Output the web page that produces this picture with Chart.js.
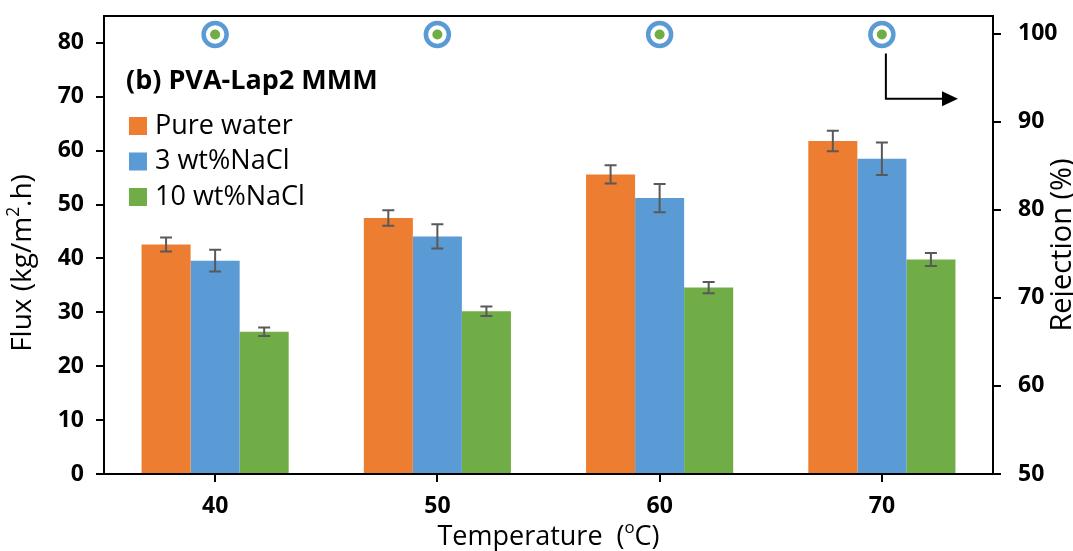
<!DOCTYPE html>
<html>
<head>
<meta charset="utf-8">
<script src="https://cdn.jsdelivr.net/npm/chart.js@4.4.1/dist/chart.umd.min.js"></script>
<style>
  html, body { margin: 0; padding: 0; background: #fff; }
</style>
</head>
<body>
<canvas id="myChart" width="1073" height="551"></canvas>
<script>
// data
const temps = ['40', '50', '60', '70'];
const pureWater = [42.6, 47.5, 55.6, 61.8];
const pureWaterErr = [1.3, 1.45, 1.7, 1.9];
const nacl3 = [39.6, 44.1, 51.2, 58.5];
const nacl3Err = [2.0, 2.25, 2.6, 3.0];
const nacl10 = [26.4, 30.2, 34.6, 39.8];
const nacl10Err = [0.8, 0.9, 1.05, 1.2];
const rejection3 = [99.9, 99.9, 99.9, 99.9];
const rejection10 = [99.9, 99.9, 99.9, 99.9];
const fluxTicks = [0, 10, 20, 30, 40, 50, 60, 70, 80];
const rejectionTicks = [50, 60, 70, 80, 90, 100];

const FONT = "'Open Sans', sans-serif";
const orange = '#ED7D31';
const blue = '#5B9BD5';
const green = '#70AD47';

// draws text pieces, some raised as superscript, centred on (0,0)
function drawParts(ctx, parts, size) {
  let total = 0;
  parts.forEach(p => {
    ctx.font = (p[1] ? size * 0.62 : size) + 'px ' + FONT;
    total += ctx.measureText(p[0]).width;
  });
  let x = -total / 2;
  parts.forEach(p => {
    ctx.font = (p[1] ? size * 0.62 : size) + 'px ' + FONT;
    ctx.fillText(p[0], x, p[1] ? -size * 0.33 : 0);
    x += ctx.measureText(p[0]).width;
  });
}

const extras = {
  id: 'extras',
  afterDatasetsDraw(chart) {
    const ctx = chart.ctx;
    const y = chart.scales.y;
    const errs = [pureWaterErr, nacl3Err, nacl10Err];
    ctx.save();
    ctx.strokeStyle = '#595959';
    ctx.lineWidth = 2;
    errs.forEach((err, i) => {
      chart.getDatasetMeta(i).data.forEach((bar, j) => {
        const v = chart.data.datasets[i].data[j];
        const top = y.getPixelForValue(v + err[j]);
        const bot = y.getPixelForValue(v - err[j]);
        ctx.beginPath();
        ctx.moveTo(bar.x, top); ctx.lineTo(bar.x, bot);
        ctx.moveTo(bar.x - 6, top); ctx.lineTo(bar.x + 6, top);
        ctx.moveTo(bar.x - 6, bot); ctx.lineTo(bar.x + 6, bot);
        ctx.stroke();
      });
    });
    ctx.restore();
  },
  afterDraw(chart) {
    const ctx = chart.ctx;
    const area = chart.chartArea;
    ctx.save();
    // top border of the plot
    ctx.strokeStyle = '#000';
    ctx.lineWidth = 2;
    ctx.beginPath();
    ctx.moveTo(area.left - 1, area.top);
    ctx.lineTo(area.right + 1, area.top);
    ctx.stroke();

    // panel title + legend
    ctx.fillStyle = '#000';
    ctx.textBaseline = 'middle';
    ctx.textAlign = 'left';
    ctx.font = 'bold 27px ' + FONT;
    ctx.fillText('(b) PVA-Lap2 MMM', 126, 81);
    ctx.font = '27px ' + FONT;
    for (let i = 0; i < 3; i++) {
      const ds = chart.data.datasets[i];
      const ry = 126 + i * 35.5;
      ctx.fillStyle = ds.backgroundColor;
      ctx.fillRect(129, ry - 9, 18, 18);
      ctx.fillStyle = '#000';
      ctx.fillText(ds.label, 155, ry);
    }

    // arrow pointing to the rejection axis
    const p = chart.getDatasetMeta(3).data[3];
    const y2 = chart.scales.y2;
    const ax = p.x + 4;
    const ay = y2.getPixelForValue(92.6);
    const tip = area.right - 35;
    ctx.beginPath();
    ctx.moveTo(ax, p.y + 19);
    ctx.lineTo(ax, ay);
    ctx.lineTo(tip - 12, ay);
    ctx.stroke();
    ctx.beginPath();
    ctx.moveTo(tip, ay);
    ctx.lineTo(tip - 16, ay - 7.5);
    ctx.lineTo(tip - 16, ay + 7.5);
    ctx.closePath();
    ctx.fill();

    // axis titles
    ctx.textAlign = 'left';
    ctx.textBaseline = 'middle';
    ctx.save();
    ctx.translate(23, 263);
    ctx.rotate(-Math.PI / 2);
    drawParts(ctx, [['Flux (kg/m'], ['2', true], ['.h)']], 28);
    ctx.restore();

    ctx.save();
    ctx.translate(1063, 245);
    ctx.rotate(-Math.PI / 2);
    drawParts(ctx, [['Rejection (%)']], 29);
    ctx.restore();

    ctx.save();
    ctx.translate((area.left + area.right) / 2, 537);
    drawParts(ctx, [['Temperature  ('], ['o', true], ['C)']], 27);
    ctx.restore();
    ctx.restore();
  }
};

const axisGrid = { display: true, drawOnChartArea: false, offset: false, tickLength: 8, color: '#000', lineWidth: 2 };
const axisBorder = { display: true, color: '#000', width: 2 };
const tickFont = { family: FONT, size: 23, weight: 'bold' };

function noPad(s) {
  s.paddingTop = 0; s.paddingBottom = 0;
}

new Chart(document.getElementById('myChart'), {
  type: 'bar',
  data: {
    labels: temps,
    datasets: [
      { label: 'Pure water', data: pureWater, backgroundColor: orange, yAxisID: 'y', order: 2 },
      { label: '3 wt%NaCl', data: nacl3, backgroundColor: blue, yAxisID: 'y', order: 2 },
      { label: '10 wt%NaCl', data: nacl10, backgroundColor: green, yAxisID: 'y', order: 2 },
      { type: 'line', label: 'Rejection 3 wt%NaCl', data: rejection3, yAxisID: 'y2', showLine: false,
        pointRadius: 11.5, pointBorderWidth: 4.5, pointBorderColor: blue, pointBackgroundColor: '#fff', order: 1 },
      { type: 'line', label: 'Rejection 10 wt%NaCl', data: rejection10, yAxisID: 'y2', showLine: false,
        pointRadius: 5, pointBorderWidth: 0, pointBackgroundColor: green, order: 0 }
    ]
  },
  options: {
    responsive: false,
    animation: false,
    layout: { padding: { top: 15, left: 0, right: 0, bottom: 0 } },
    datasets: { bar: { barPercentage: 1, categoryPercentage: 0.662, borderWidth: 0 } },
    plugins: { legend: { display: false }, tooltip: { enabled: false } },
    scales: {
      x: {
        grid: axisGrid,
        border: axisBorder,
        ticks: { font: tickFont, color: '#000', padding: 11, maxRotation: 0 },
        afterFit(s) { s.height = 77; s.paddingLeft = 0; s.paddingRight = 0; }
      },
      y: {
        position: 'left',
        min: 0, max: 85,
        afterBuildTicks(s) { s.ticks = fluxTicks.map(v => ({ value: v })); },
        grid: axisGrid,
        border: axisBorder,
        ticks: { font: tickFont, color: '#000', padding: 12 },
        afterFit(s) { s.width = 104; noPad(s); }
      },
      y2: {
        position: 'right',
        min: 50, max: 102,
        afterBuildTicks(s) { s.ticks = rejectionTicks.map(v => ({ value: v })); },
        grid: axisGrid,
        border: axisBorder,
        ticks: { font: tickFont, color: '#000', padding: 17 },
        afterFit(s) { s.width = 80; noPad(s); }
      }
    }
  },
  plugins: [extras]
});
</script>
</body>
</html>
